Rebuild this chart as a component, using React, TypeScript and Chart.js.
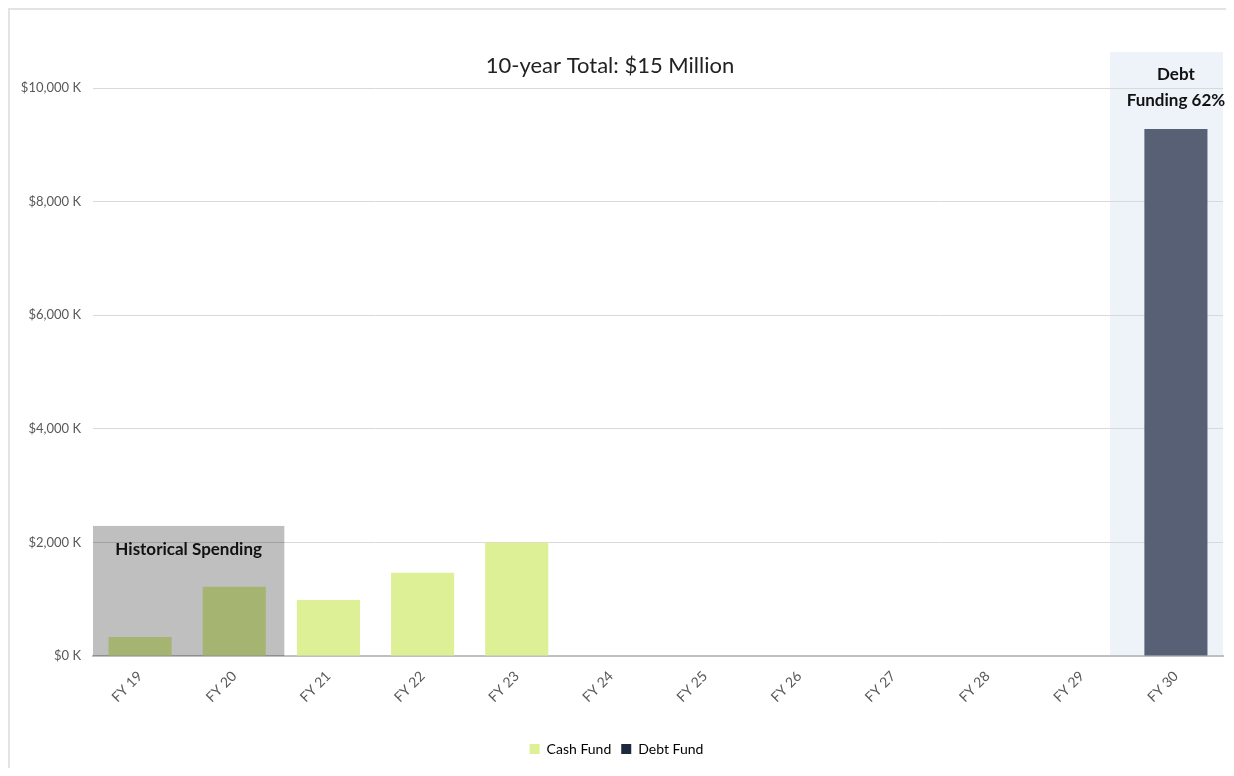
import React, { useEffect, useRef } from "react";
import { Chart, registerables } from "chart.js";

Chart.register(...registerables);

const categories = ["FY 19", "FY 20", "FY 21", "FY 22", "FY 23", "FY 24", "FY 25", "FY 26", "FY 27", "FY 28", "FY 29", "FY 30"];
const cashFund = [335, 1217, 988, 1464, 2000, null, null, null, null, null, null, null];
const debtFund = [null, null, null, null, null, null, null, null, null, null, null, 9280];
const yTicks = [0, 2000, 4000, 6000, 8000, 10000];
const titleText = "10-year Total: $15 Million";
const historicalLabel = "Historical Spending";
const historicalTop = 2290;
const debtLabel = ["Debt", "Funding 62%"];

const FONT = "Lato, 'Open Sans', sans-serif";

const annotations = {
  id: "annotations",
  beforeDraw(chart: any) {
    const { ctx, chartArea, scales } = chart;
    const x = scales.x;
    const cw = (x.getPixelForValue(1) - x.getPixelForValue(0));
    const left = x.getPixelForValue(11) - 0.7 * cw;
    ctx.save();
    ctx.fillStyle = "#eef3f9";
    ctx.fillRect(left, chartArea.top - 36, chartArea.right - left, chartArea.bottom - chartArea.top + 36);
    ctx.restore();
  },
  afterDatasetsDraw(chart: any) {
    const { ctx, chartArea, scales } = chart;
    const x = scales.x;
    const y = scales.y;
    const cw = (x.getPixelForValue(1) - x.getPixelForValue(0));
    const right = x.getPixelForValue(1) + cw / 2 + 3;
    const top = y.getPixelForValue(historicalTop);
    ctx.save();
    ctx.globalCompositeOperation = "multiply";
    ctx.fillStyle = "#bfbfbf";
    ctx.fillRect(chartArea.left, top, right - chartArea.left, chartArea.bottom - top);
    ctx.globalCompositeOperation = "source-over";
    ctx.fillStyle = "#111111";
    ctx.font = `bold 17px ${FONT}`;
    ctx.textAlign = "center";
    ctx.textBaseline = "middle";
    ctx.fillText(historicalLabel, (chartArea.left + right) / 2, top + 24);

    // title
    ctx.font = `22px ${FONT}`;
    ctx.fillStyle = "#222222";
    ctx.fillText(titleText, chart.width / 2 - 8, 56);

    // debt label
    const cx = x.getPixelForValue(11);
    ctx.font = `bold 17px ${FONT}`;
    ctx.fillStyle = "#111111";
    ctx.fillText(debtLabel[0], cx, chartArea.top - 13);
    ctx.fillText(debtLabel[1], cx, chartArea.top + 13);
    ctx.restore();
  },
};

export default function App() {
  const ref = useRef<HTMLCanvasElement>(null);
  useEffect(() => {
    if (!ref.current) return;
    const chart = new Chart(ref.current, {
      type: "bar",
      data: {
        labels: categories,
        datasets: [
          { label: "Cash Fund", data: cashFund as any, backgroundColor: "#ddf096", categoryPercentage: 0.67, barPercentage: 1 },
          { label: "Debt Fund", data: debtFund as any, backgroundColor: "#576075", categoryPercentage: 0.67, barPercentage: 1 },
        ],
      },
      options: {
        animation: false,
        responsive: true,
        maintainAspectRatio: false,
        layout: { padding: { top: 78, right: 3, left: 0, bottom: 2 } },
        scales: {
          x: {
            stacked: true,
            grid: { display: false },
            border: { display: true, color: "#bfbfbf", width: 2 },
            ticks: {
              color: "#595959",
              font: { family: FONT, size: 14 },
              minRotation: 45,
              maxRotation: 45,
              padding: 4,
            },
            afterFit(scale: any) { scale.height = 76; },
          },
          y: {
            stacked: true,
            min: 0,
            max: 10000,
            afterBuildTicks(scale: any) { scale.ticks = yTicks.map((v) => ({ value: v })); },
            grid: { color: "#d9d9d9", drawTicks: false, lineWidth: 1 },
            border: { display: false },
            ticks: {
              color: "#595959",
              font: { family: FONT, size: 13 },
              padding: 12,
              callback: (v: any) => `$${Number(v).toLocaleString("en-US")} K`,
            },
            afterFit(scale: any) { scale.width = 83; },
          },
        },
        plugins: {
          title: { display: false },
          tooltip: { enabled: false },
          legend: {
            position: "bottom",
            labels: {
              color: "#595959",
              font: { family: FONT, size: 14 },
              boxWidth: 10,
              boxHeight: 10,
              padding: 10,
              generateLabels: () => [
                { text: "Cash Fund", fillStyle: "#ddf096", strokeStyle: "#ddf096", lineWidth: 0, datasetIndex: 0 },
                { text: "Debt Fund", fillStyle: "#1c2740", strokeStyle: "#1c2740", lineWidth: 0, datasetIndex: 1 },
              ] as any,
            },
          },
        },
      },
      plugins: [annotations],
    });
    return () => chart.destroy();
  }, []);
  return (
    <div style={{ width: 1218, height: 760, boxSizing: "border-box", borderTop: "2px solid #e3e3e3", borderLeft: "2px solid #e3e3e3", background: "#fff" }}>
      <div style={{ position: "relative", width: "100%", height: "100%" }}>
        <canvas ref={ref} />
      </div>
    </div>
  );
}
